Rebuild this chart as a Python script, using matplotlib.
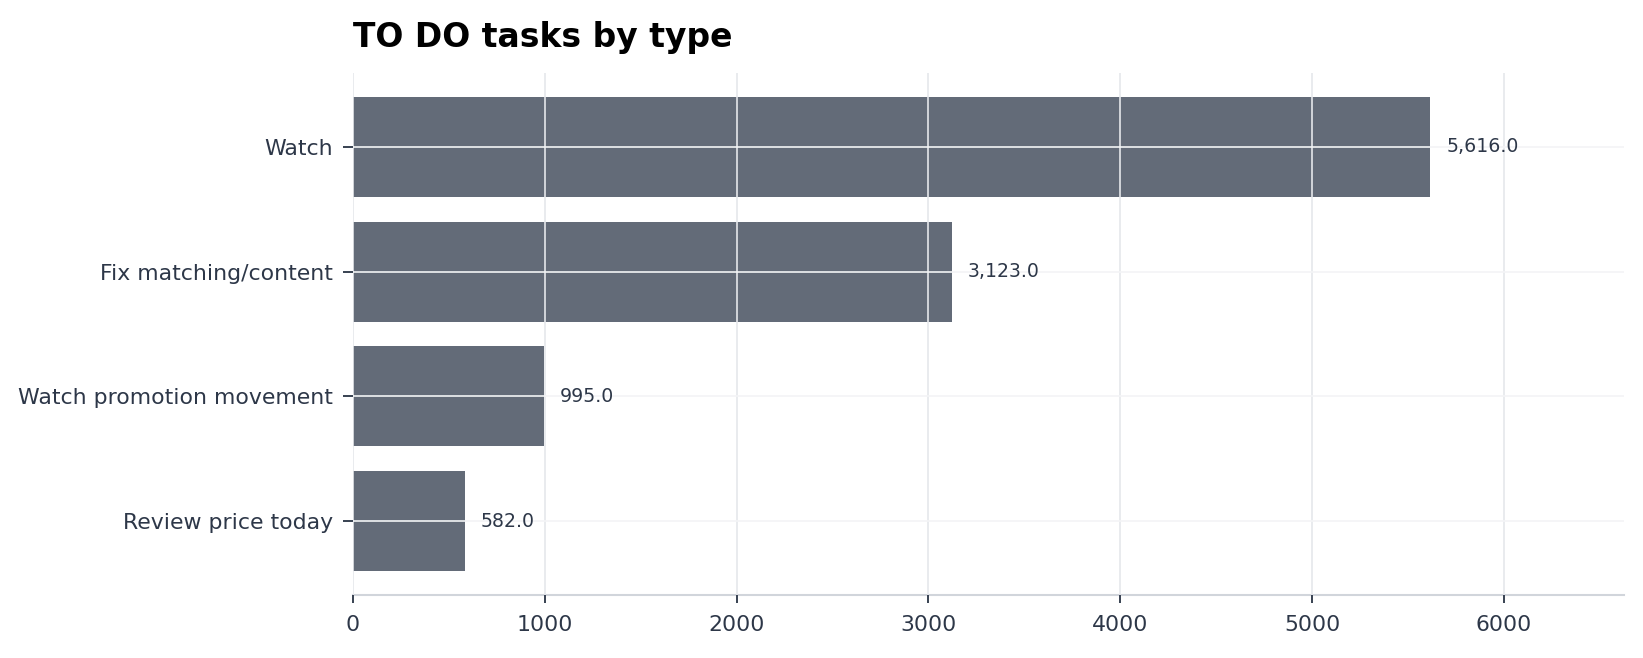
import matplotlib
matplotlib.use("Agg")
import matplotlib.pyplot as plt

categories = ["Watch", "Fix matching/content", "Watch promotion movement", "Review price today"]
values = [5616.0, 3123.0, 995.0, 582.0]
xticks = [0, 1000, 2000, 3000, 4000, 5000, 6000]

text_color = "#2d3748"
bar_color = "#636b78"

fig = plt.figure(figsize=(16.43, 6.58), dpi=100)
ax = fig.add_axes([353/1643, 1 - 595/658, (1624-353)/1643, (595-73)/658])

ypos = list(range(len(categories)))
bars = ax.barh(ypos, values, height=0.8, color=bar_color, zorder=1)
ax.set_yticks(ypos)
ax.set_yticklabels(categories)
ax.invert_yaxis()
ax.set_xlim(0, max(values) * 1.18)
ax.set_xticks(xticks)

for b, v in zip(bars, values):
    ax.annotate(f"{v:,.1f}", (b.get_width(), b.get_y() + b.get_height()/2),
                xytext=(11.5, 0), textcoords="offset points",
                va="center", ha="left", fontsize=13.6, color=text_color, zorder=3)

ax.xaxis.grid(True, color="#e5e7eb", linewidth=1.2, zorder=2)
ax.yaxis.grid(True, color="#f3f4f6", linewidth=1.2, zorder=2)
ax.set_axisbelow(False)

for s in ["top", "right", "left"]:
    ax.spines[s].set_visible(False)
ax.spines["bottom"].set_color("#d1d5db")
ax.spines["bottom"].set_linewidth(1.5)

ax.tick_params(axis="both", colors="#374151", labelcolor=text_color, labelsize=15.8,
               width=1.4)
ax.tick_params(axis="y", length=7, pad=7.5)
ax.tick_params(axis="x", length=6, pad=8.5)

ax.set_title("TO DO tasks by type", loc="left", fontsize=23.8, fontweight="bold",
             color="black", pad=18.5)

fig.savefig("out.png", dpi=100)
